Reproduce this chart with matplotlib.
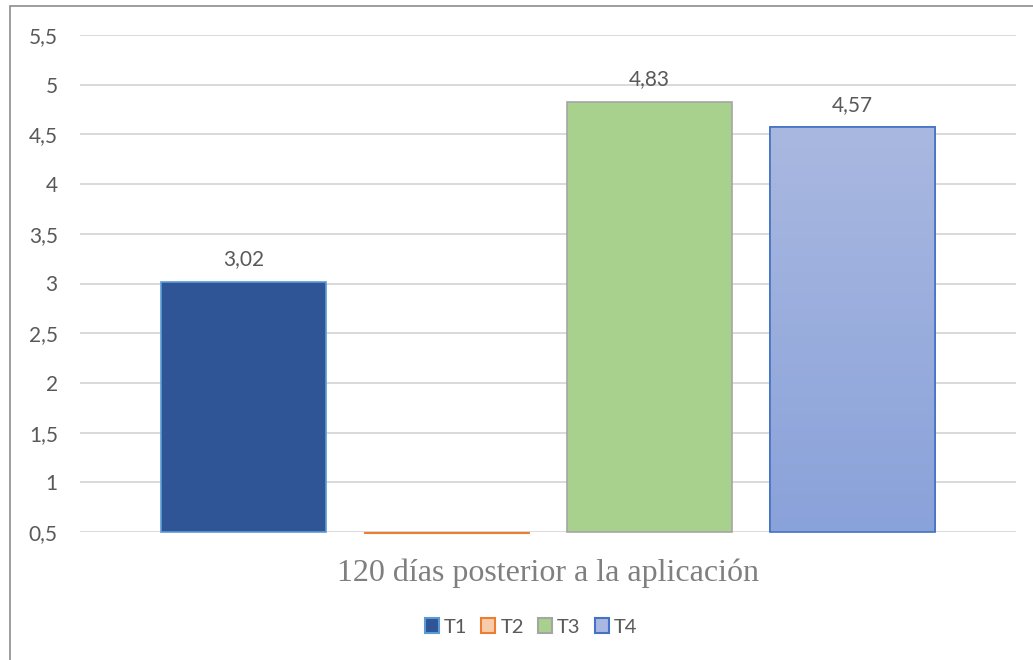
import matplotlib
matplotlib.use("Agg")
import matplotlib.pyplot as plt
import numpy as np
from matplotlib.patches import Rectangle
from matplotlib.colors import LinearSegmentedColormap

categories = ["T1", "T2", "T3", "T4"]
values = [3.02, 0.485, 4.83, 4.57]
labels = ["3,02", "", "4,83", "4,57"]
yticks = [0.5, 1, 1.5, 2, 2.5, 3, 3.5, 4, 4.5, 5, 5.5]
ytick_labels = ["0,5", "1", "1,5", "2", "2,5", "3", "3,5", "4", "4,5", "5", "5,5"]
xlabel = "120 días posterior a la aplicación"

fills = ["#2F5597", "#F8CBAD", "#A9D18E", "#A9B8E0"]
edges = ["#5B9BD5", "#ED7D31", "#A5A5A5", "#4472C4"]

base = 0.5
W, H = 1033, 660
fig = plt.figure(figsize=(W / 100, H / 100), dpi=100)
fig.patch.set_facecolor("white")
fig.patches.append(Rectangle((10 / W, -0.1), 1.2, 1 - 6 / H + 0.1, transform=fig.transFigure,
                             fill=False, edgecolor="#8C8C8C", linewidth=1.2))

ax = fig.add_axes([80 / W, (H - 532) / H, (1016 - 80) / W, (532 - 35) / H])
ax.set_yticks(yticks)
ax.set_yticklabels(ytick_labels, fontfamily="Lato", fontsize=15, color="#595959")
ax.tick_params(axis="y", length=0, pad=16)
ax.set_xticks([])
for s in ax.spines.values():
    s.set_visible(False)
ax.yaxis.grid(True, color="#D9D9D9", linewidth=1.4)
ax.set_axisbelow(True)

x = np.arange(len(categories))
width = 0.81
bars = ax.bar(x, [v - base for v in values], bottom=base, width=width,
              color=fills, edgecolor=edges, linewidth=[1.2, 0.8, 1.2, 1.2], zorder=3, clip_on=False)

# gradient for T4
b4 = bars[3]
cmap = LinearSegmentedColormap.from_list("g", ["#8AA2DA", "#A9B8E0"])
grad = np.linspace(0, 1, 256).reshape(-1, 1)
x0 = b4.get_x(); y0 = b4.get_y()
im = ax.imshow(grad, aspect="auto", cmap=cmap, origin="lower",
               extent=[x0, x0 + b4.get_width(), y0, y0 + b4.get_height()], zorder=3.5)
im.set_clip_path(b4)
ax.bar([x[3]], [values[3] - base], bottom=base, width=width, facecolor="none",
       edgecolor=edges[3], linewidth=1.2, zorder=4)
ax.set_xlim(-0.805, 3.805)
ax.set_ylim(0.5, 5.5)

for xi, v, lab in zip(x, values, labels):
    if lab:
        ax.annotate(lab, (xi, v), xytext=(0, 9), textcoords="offset points",
                    ha="center", va="bottom", fontfamily="Lato", fontsize=15, color="#595959")

fig.text((80 + 1016) / 2 / W, 1 - 581 / H, xlabel, ha="center", va="baseline",
         fontfamily="Liberation Serif", fontsize=23, color="#7F7F7F")

handles = [Rectangle((0, 0), 1, 1, facecolor=f, edgecolor=e, linewidth=1.5) for f, e in zip(fills, edges)]
leg = fig.legend(handles, categories, loc="center", bbox_to_anchor=(0.514, 1 - 627 / H), ncol=4,
                 frameon=False, handlelength=0.7, handleheight=0.7, handletextpad=0.25,
                 columnspacing=0.7, prop={"family": "Lato", "size": 14.5})
for t in leg.get_texts():
    t.set_color("#595959")

fig.savefig("out.png", dpi=100)
